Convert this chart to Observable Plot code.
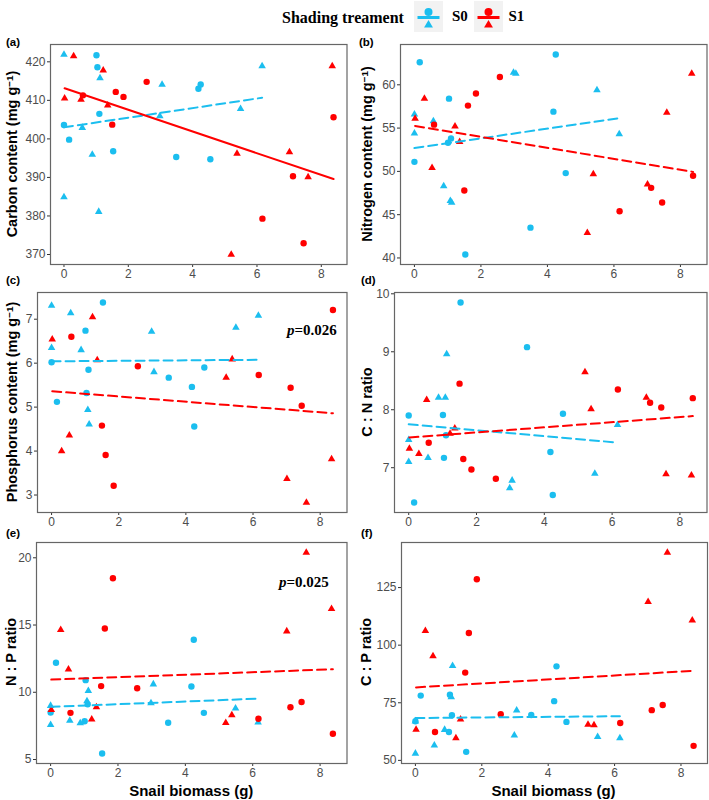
<!DOCTYPE html>
<html>
<head>
<meta charset="utf-8">
<script src="https://cdn.jsdelivr.net/npm/d3@7"></script>
<script src="https://cdn.jsdelivr.net/npm/@observablehq/plot@0.6"></script>
<style>
  body { margin: 0; background: #fff; }
  #root { position: relative; width: 709px; height: 800px; background: #fff; overflow: hidden;
          font-family: "Liberation Sans", Arial, sans-serif; }
  .panel { position: absolute; }
  .ytitle { position: absolute; font-weight: bold; font-size: 14.5px; white-space: nowrap; line-height: 1;
            color: #000; transform: translate(-50%, -50%) rotate(-90deg); }
  .ytitle .sup { position: relative; top: -0.45em; font-size: 0.68em; }
  .tag { position: absolute; font-weight: bold; font-size: 11.5px; line-height: 1; transform: translateY(-50%); color: #000; }
  .xtitle { position: absolute; font-weight: bold; font-size: 15px; line-height: 1; white-space: nowrap;
            transform: translate(-50%, -50%); color: #000; }
  .pval { position: absolute; font-family: "Liberation Serif", "Times New Roman", serif; font-weight: bold;
          font-size: 15px; line-height: 1; white-space: nowrap; transform: translateY(-50%); color: #000; }
  .legtitle { position: absolute; font-family: "Liberation Serif", "Times New Roman", serif; font-weight: bold;
              font-size: 16px; line-height: 1; white-space: nowrap; color: #000; }
  .leglab { position: absolute; font-family: "Liberation Serif", "Times New Roman", serif; font-weight: bold;
            font-size: 15px; line-height: 1; white-space: nowrap; color: #000; }
</style>
</head>
<body>
<div id="root"></div>
<script>
// ---------------- data ----------------
const groups = ["S0", "S1"];
const groupColors = ["#1BBEEF", "#FF0000"];
const xTicks = [0, 2, 4, 6, 8];

// snail biomass (g) per sample: S0 circles / S0 triangles / S1 circles / S1 triangles
const xS0c = [0, 0.16, 1.01, 1.04, 1.10, 1.53, 3.49, 4.18, 4.25, 4.55];
const xS0t = [0, 0, 0.57, 0.88, 1.08, 1.12, 2.98, 3.05, 5.49, 6.16];
const xS1c = [0.59, 1.50, 1.61, 1.85, 2.57, 6.17, 7.12, 7.45, 8.38];
const xS1t = [0.02, 0.30, 0.53, 1.22, 1.36, 5.20, 5.38, 7.01, 7.59, 8.34];

// (a) carbon content
const carbonS0c = [403.6, 399.8, 421.7, 418.6, 406.5, 396.8, 395.3, 413.0, 414.1, 394.7];
const carbonS0t = [421.9, 384.9, 402.9, 395.9, 381.1, 415.8, 405.9, 414.1, 407.8, 418.9];
const carbonS1c = [411.3, 403.7, 412.2, 410.9, 414.8, 379.3, 390.3, 372.9, 405.6];
const carbonS1t = [410.5, 421.5, 410.2, 417.8, 408.7, 370.0, 396.2, 396.6, 390.1, 418.9];
const carbonTicks = [370, 380, 390, 400, 410, 420];

// (b) nitrogen content
const nitrogenS0c = [51.1, 62.6, 53.3, 58.4, 53.8, 40.4, 43.5, 56.9, 63.5, 49.8];
const nitrogenS0t = [56.6, 54.4, 55.8, 48.3, 46.6, 46.4, 61.4, 61.3, 59.4, 54.3];
const nitrogenS1c = [55.4, 47.8, 57.6, 59.0, 60.9, 45.4, 48.1, 46.4, 49.5];
const nitrogenS1t = [56.1, 58.4, 50.4, 55.2, 53.4, 42.9, 49.7, 48.5, 56.8, 61.3];
const nitrogenTicks = [40, 45, 50, 55, 60];

// (c) phosphorus content
const phosS0c = [6.02, 5.12, 6.74, 5.32, 5.85, 7.38, 5.67, 5.46, 4.56, 5.90];
const phosS0t = [6.35, 7.31, 7.14, 6.30, 4.94, 4.61, 6.72, 5.80, 6.81, 7.08];
const phosS1c = [6.60, 4.58, 3.91, 3.21, 5.93, 5.73, 5.44, 5.03, 7.21];
const phosS1t = [6.54, 4.00, 4.36, 7.05, 6.07, 5.67, 6.09, 3.37, 2.83, 3.82];
const phosTicks = [3, 4, 5, 6, 7];

// (d) C:N ratio
const cnS0c = [7.90, 6.40, 7.91, 7.17, 7.56, 9.85, 9.08, 7.27, 6.53, 7.93];
const cnS0t = [7.48, 7.10, 7.17, 8.21, 8.21, 8.96, 6.65, 6.78, 6.90, 7.74];
const cnS1c = [7.43, 8.45, 7.15, 6.97, 6.81, 8.35, 8.12, 8.04, 8.20];
const cnS1t = [7.33, 7.24, 8.17, 7.59, 7.68, 8.65, 8.01, 8.21, 6.89, 6.87];
const cnTicks = [7, 8, 9, 10];

// (e) N:P ratio
const npS0c = [8.50, 12.2, 7.84, 10.9, 9.10, 5.45, 7.73, 10.43, 13.9, 8.47];
const npS0t = [9.00, 7.58, 7.90, 7.70, 9.35, 10.1, 9.20, 10.6, 8.80, 7.77];
const npS1c = [8.47, 10.46, 14.74, 18.48, 10.3, 8.03, 8.89, 9.28, 6.92];
const npS1t = [8.69, 14.65, 11.71, 7.98, 8.89, 7.73, 8.30, 14.54, 20.39, 16.21];
const npTicks = [5, 10, 15, 20];

// (f) C:P ratio
const cpS0c = [67.0, 78.1, 62.3, 78.5, 69.6, 53.7, 69.7, 75.7, 90.8, 66.7];
const cpS0t = [67.0, 53.0, 56.5, 63.3, 77.5, 91.0, 60.9, 71.7, 60.2, 59.7];
const cpS1c = [62.3, 88.1, 105.3, 128.6, 70.0, 66.2, 71.8, 74.0, 56.3];
const cpS1t = [63.4, 106.2, 95.3, 59.7, 67.8, 65.5, 65.3, 118.8, 140.2, 110.8];
const cpTicks = [50, 75, 100, 125];

const panelTags = ["(a)", "(b)", "(c)", "(d)", "(e)", "(f)"];
const yTitles = ["Carbon content", "Nitrogen content", "Phosphorus content", "C : N ratio", "N : P ratio", "C : P ratio"];
const unitText = "(mg g", unitSup = "−1", unitClose = ")";
const xTitle = "Snail biomass (g)";
const legendTitle = "Shading treament";
const pValues = ["", "", "0.026", "", "0.025", ""];
// which fitted lines are solid (significant) : [S0, S1]
const solidLines = [[false, true], [false, false], [false, false], [false, false], [false, false], [false, false]];

// ---------------- layout (pixels) ----------------
const boxes = [
  [50, 44, 346.5, 264], [400, 44, 706.5, 264],
  [37, 291.5, 346.5, 511.5], [394, 291.5, 706.5, 511.5],
  [36, 541.5, 346.5, 762.5], [400.5, 541.5, 706.5, 762.5]
];
const titleX = [12, 367, 12, 367, 10.5, 366];
const tagPos = [[6, 43], [359, 43], [6, 281], [361, 281], [6, 534], [361, 534]];
const pPos = [null, null, [287, 329.5], null, [279, 582], null];

const ML = 40, MR = 2, MT = 4, MB = 22;

function rows(xs, ys, g, shape) { return xs.map((x, i) => ({x, y: ys[i], g, shape})); }
function expand([a, b]) { const d = (b - a) * 0.05; return [a - d, b + d]; }

const allX = [...xS0c, ...xS0t, ...xS1c, ...xS1t];
const xDomain = expand(d3.extent(allX));

const panelData = [
  [carbonS0c, carbonS0t, carbonS1c, carbonS1t, carbonTicks],
  [nitrogenS0c, nitrogenS0t, nitrogenS1c, nitrogenS1t, nitrogenTicks],
  [phosS0c, phosS0t, phosS1c, phosS1t, phosTicks],
  [cnS0c, cnS0t, cnS1c, cnS1t, cnTicks],
  [npS0c, npS0t, npS1c, npS1t, npTicks],
  [cpS0c, cpS0t, cpS1c, cpS1t, cpTicks]
];

const root = document.getElementById("root");
const fmt = d => String(d);

panelData.forEach(([s0c, s0t, s1c, s1t, yTicks], i) => {
  const [l, t, r, b] = boxes[i];
  const S0c = rows(xS0c, s0c, "S0", "circle"), S0t = rows(xS0t, s0t, "S0", "triangle");
  const S1c = rows(xS1c, s1c, "S1", "circle"), S1t = rows(xS1t, s1t, "S1", "triangle");
  const S0 = [...S0c, ...S0t], S1 = [...S1c, ...S1t];
  const yDomain = expand(d3.extent([...S0, ...S1], d => d.y));
  const lineOpts = (gi) => Object.assign(
    {x: "x", y: "y", stroke: groupColors[gi], strokeWidth: 2, ci: 0},
    solidLines[i][gi] ? {} : {strokeDasharray: "9,5"}
  );
  const svg = Plot.plot({
    width: r - l + ML + MR,
    height: b - t + MT + MB,
    marginLeft: ML, marginRight: MR, marginTop: MT, marginBottom: MB,
    x: {domain: xDomain},
    y: {domain: yDomain},
    style: {background: "transparent", fontFamily: "Liberation Sans, Arial, sans-serif", fontSize: "12px", color: "#4d4d4d", overflow: "visible"},
    marks: [
      Plot.axisX({ticks: xTicks, tickFormat: fmt, tickSize: 3, tickPadding: 2, label: null, stroke: "#333", fill: "#4d4d4d"}),
      Plot.axisY({ticks: yTicks, tickFormat: fmt, tickSize: 3, tickPadding: 2, label: null, stroke: "#333", fill: "#4d4d4d"}),
      Plot.dot(S0c, {x: "x", y: "y", symbol: "circle", r: 3.2, fill: groupColors[0]}),
      Plot.dot(S0t, {x: "x", y: "y", symbol: "triangle", r: 2.8, fill: groupColors[0]}),
      Plot.dot(S1c, {x: "x", y: "y", symbol: "circle", r: 3.2, fill: groupColors[1]}),
      Plot.dot(S1t, {x: "x", y: "y", symbol: "triangle", r: 2.8, fill: groupColors[1]}),
      Plot.linearRegressionY(S0, lineOpts(0)),
      Plot.linearRegressionY(S1, lineOpts(1)),
      Plot.frame({stroke: "#666", strokeWidth: 1.2})
    ]
  });
  const wrap = document.createElement("div");
  wrap.className = "panel";
  wrap.style.left = (l - ML) + "px";
  wrap.style.top = (t - MT) + "px";
  wrap.appendChild(svg);
  root.appendChild(wrap);

  // y title
  const yt = document.createElement("div");
  yt.className = "ytitle";
  yt.style.left = titleX[i] + "px";
  yt.style.top = ((t + b) / 2) + "px";
  if (i < 3) {
    yt.innerHTML = `${yTitles[i]} ${unitText}<span class="sup">${unitSup}</span>${unitClose}`;
  } else {
    yt.textContent = yTitles[i];
  }
  root.appendChild(yt);

  // tag
  const tg = document.createElement("div");
  tg.className = "tag";
  tg.style.left = tagPos[i][0] + "px";
  tg.style.top = tagPos[i][1] + "px";
  tg.textContent = panelTags[i];
  root.appendChild(tg);

  // p value
  if (pValues[i]) {
    const pv = document.createElement("div");
    pv.className = "pval";
    pv.style.left = pPos[i][0] + "px";
    pv.style.top = pPos[i][1] + "px";
    pv.innerHTML = `<i>p</i>=${pValues[i]}`;
    root.appendChild(pv);
  }

  // x title under bottom row
  if (i >= 4) {
    const xt = document.createElement("div");
    xt.className = "xtitle";
    xt.style.left = ((l + r) / 2) + "px";
    xt.style.top = "790px";
    xt.textContent = xTitle;
    root.appendChild(xt);
  }
});

// ---------------- legend ----------------
const lt = document.createElement("div");
lt.className = "legtitle";
lt.style.left = "282px";
lt.style.top = "10px";
lt.textContent = legendTitle;
root.appendChild(lt);

const keyLeft = [414, 473.5], labLeft = [452, 508.5];
groups.forEach((g, gi) => {
  const ns = "http://www.w3.org/2000/svg";
  const key = document.createElementNS(ns, "svg");
  key.setAttribute("width", 29); key.setAttribute("height", 31);
  key.style.position = "absolute"; key.style.left = keyLeft[gi] + "px"; key.style.top = "1px";
  const rect = document.createElementNS(ns, "rect");
  rect.setAttribute("width", 29); rect.setAttribute("height", 31); rect.setAttribute("fill", "#F2F2F2");
  key.appendChild(rect);
  const c = document.createElementNS(ns, "circle");
  c.setAttribute("cx", 14.5); c.setAttribute("cy", 11); c.setAttribute("r", 4); c.setAttribute("fill", groupColors[gi]);
  key.appendChild(c);
  const ln = document.createElementNS(ns, "line");
  ln.setAttribute("x1", 3.5); ln.setAttribute("x2", 25.5); ln.setAttribute("y1", 16.5); ln.setAttribute("y2", 16.5);
  ln.setAttribute("stroke", groupColors[gi]); ln.setAttribute("stroke-width", 3);
  key.appendChild(ln);
  const tri = document.createElementNS(ns, "path");
  tri.setAttribute("d", d3.symbol(d3.symbolTriangle, 34)());
  tri.setAttribute("transform", "translate(14.5,24)");
  tri.setAttribute("fill", groupColors[gi]);
  key.appendChild(tri);
  root.appendChild(key);
  const lab = document.createElement("div");
  lab.className = "leglab";
  lab.style.left = labLeft[gi] + "px";
  lab.style.top = "9px";
  lab.textContent = g;
  root.appendChild(lab);
});
</script>
</body>
</html>
